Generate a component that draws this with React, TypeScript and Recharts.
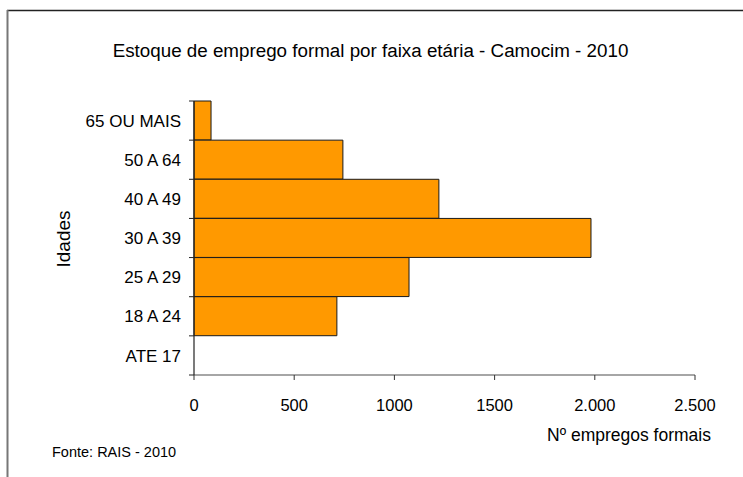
import { BarChart, Bar, XAxis, YAxis } from "recharts";

const categories = ["65 OU MAIS", "50 A 64", "40 A 49", "30 A 39", "25 A 29", "18 A 24", "ATE 17"];
const empregos = [85, 743, 1222, 1981, 1073, 713, 0];
const xTicks = [0, 500, 1000, 1500, 2000, 2500];
const xTickLabels = ["0", "500", "1000", "1500", "2.000", "2.500"];

const FONT = "'Liberation Sans', Arial, sans-serif";
const W = 743;
const H = 477;
const MARGIN = { top: 101, right: 48, bottom: 72, left: 0 };
const X_AXIS_H = 30;
const BAND = (H - MARGIN.top - MARGIN.bottom - X_AXIS_H) / categories.length;
const Y_TICK_MARGIN = 13;

const data = categories.map((c, i) => ({ faixa: c, empregos: empregos[i] }));

function AgeTick(props: any) {
    const { x, y, payload, index } = props;
    const ax = x + Y_TICK_MARGIN;
    return (
        <g>
            <line x1={ax - 5} x2={ax} y1={y - BAND / 2} y2={y - BAND / 2} stroke="#222" />
            {index === categories.length - 1 && (
                <line x1={ax - 5} x2={ax} y1={y + BAND / 2} y2={y + BAND / 2} stroke="#222" />
            )}
            <text x={x} y={y} dy="0.36em" textAnchor="end" fontSize={17} fontFamily={FONT} fill="#000">
                {payload.value}
            </text>
        </g>
    );
}

export default function App() {
    return (
        <div style={{ position: "absolute", left: 0, top: 0, width: W, height: H, background: "#fff" }}>
            <BarChart
                width={W}
                height={H}
                data={data}
                layout="vertical"
                margin={MARGIN}
                barCategoryGap={0}
            >
                <XAxis
                    type="number"
                    domain={[0, 2500]}
                    ticks={xTicks}
                    tickFormatter={(v) => xTickLabels[xTicks.indexOf(Number(v))]}
                    height={X_AXIS_H}
                    axisLine={{ stroke: "#888", strokeWidth: 1.5 }}
                    tickLine={{ stroke: "#333" }}
                    tickSize={5}
                    tickMargin={19}
                    tick={{ fill: "#000", fontSize: 16.5, fontFamily: FONT }}
                    interval={0}
                />
                <YAxis
                    type="category"
                    dataKey="faixa"
                    width={194}
                    axisLine={{ stroke: "#222", strokeWidth: 1.2 }}
                    tickLine={false}
                    tickSize={0}
                    tickMargin={Y_TICK_MARGIN}
                    tick={<AgeTick />}
                    interval={0}
                />
                <Bar
                    dataKey="empregos"
                    fill="#FF9900"
                    stroke="#1a1a1a"
                    strokeWidth={1}
                    isAnimationActive={false}
                />
            </BarChart>
            <svg
                width={W}
                height={H}
                style={{ position: "absolute", left: 0, top: 0, pointerEvents: "none" }}
            >
                <line x1={7} x2={W} y1={10.5} y2={10.5} stroke="#222" strokeWidth={1.5} />
                <line x1={7.5} x2={7.5} y1={10} y2={H} stroke="#777" strokeWidth={2} />
                <text x={370.5} y={50} dy="0.36em" textAnchor="middle" fontSize={18.8} fontFamily={FONT} fill="#000">
                    Estoque de emprego formal por faixa etária - Camocim - 2010
                </text>
                <text
                    x={63}
                    y={239}
                    dy="0.36em"
                    textAnchor="middle"
                    fontSize={19}
                    fontFamily={FONT}
                    fill="#000"
                    transform="rotate(-90, 63, 239)"
                >
                    Idades
                </text>
                <text x={711} y={435} dy="0.36em" textAnchor="end" fontSize={17.5} fontFamily={FONT} fill="#000">
                    Nº empregos formais
                </text>
                <text x={52} y={452} dy="0.36em" fontSize={14.5} fontFamily={FONT} fill="#000">
                    Fonte: RAIS - 2010
                </text>
            </svg>
        </div>
    );
}
